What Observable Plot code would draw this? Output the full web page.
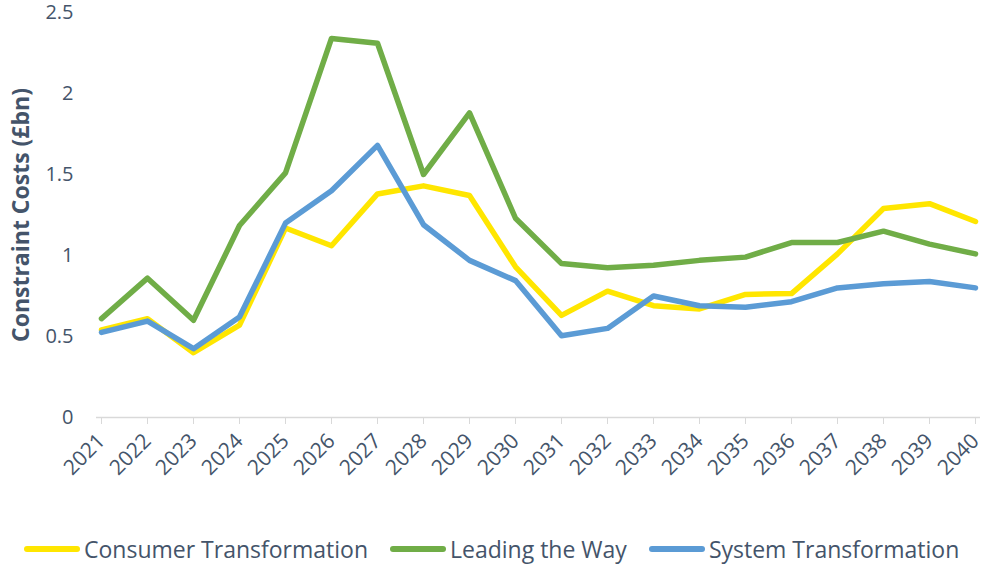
<!DOCTYPE html>
<html><head><meta charset="utf-8">
<script src="https://cdn.jsdelivr.net/npm/d3@7"></script>
<script src="https://cdn.jsdelivr.net/npm/@observablehq/plot@0.6"></script>
<style>
body{margin:0;background:#fff;font-family:"Open Sans",sans-serif;}
#legend{display:flex;align-items:center;height:40px;margin-top:14px;padding-left:24px;color:#44546A;font-size:23px;}
.item{display:flex;align-items:center;margin-right:22px;}
.sw{width:56px;height:6px;border-radius:3px;margin-right:4px;}
</style></head><body><div id="chart"></div><div id="legend"></div>
<script>
const years = [2021,2022,2023,2024,2025,2026,2027,2028,2029,2030,2031,2032,2033,2034,2035,2036,2037,2038,2039,2040];
const seriesNames = ["Consumer Transformation","Leading the Way","System Transformation"];
const colors = ["#FFE600","#70AD47","#5B9BD5"];
const consumer = [0.54,0.61,0.40,0.57,1.17,1.06,1.38,1.43,1.37,0.93,0.63,0.78,0.69,0.67,0.76,0.765,1.01,1.29,1.32,1.21];
const leading  = [0.61,0.86,0.60,1.185,1.51,2.34,2.31,1.50,1.88,1.23,0.95,0.925,0.94,0.97,0.99,1.08,1.08,1.15,1.07,1.01];
const system   = [0.525,0.595,0.425,0.62,1.20,1.40,1.68,1.19,0.97,0.845,0.505,0.55,0.75,0.69,0.68,0.715,0.80,0.825,0.84,0.80];
const yTicks = [0,0.5,1,1.5,2,2.5];
const yTitle = "Constraint Costs (£bn)";

const values = [consumer, leading, system];
const data = [];
seriesNames.forEach((s,i)=>years.forEach((y,j)=>data.push({year:y, value:values[i][j], series:s})));

const textColor = "#44546A";
const chart = Plot.plot({
  width:987, height:515,
  marginLeft:96, marginRight:7, marginTop:12, marginBottom:98,
  style:{fontFamily:"Open Sans, sans-serif", fontSize:"20px", color:textColor, background:"#fff", overflow:"visible"},
  x:{type:"point", domain:years, padding:0},
  y:{domain:[0,2.5]},
  color:{domain:seriesNames, range:colors},
  marks:[
    Plot.ruleY([0],{stroke:"#D9D9D9", strokeWidth:1.5}),
    Plot.axisX({tickRotate:-45, tickSize:7, tickPadding:13, stroke:"#D9D9D9", fill:textColor, fontSize:21, label:null, tickFormat:d=>String(d)}),
    Plot.axisY({ticks:yTicks, tickSize:0, tickPadding:23, fill:textColor, label:null, tickFormat:d=>String(d)}),
    Plot.text([yTitle],{frameAnchor:"left", textAnchor:"middle", dx:-75, rotate:-90, fontWeight:"bold", fontSize:23, fill:textColor}),
    Plot.lineY(data,{x:"year", y:"value", z:"series", stroke:"series", strokeWidth:5.5, strokeLinejoin:"round"})
  ]
});
document.getElementById("chart").appendChild(chart);
const lg = document.getElementById("legend");
seriesNames.forEach((s,i)=>{
  const it = document.createElement("div"); it.className="item";
  const sw = document.createElement("div"); sw.className="sw"; sw.style.background=colors[i];
  const t = document.createElement("span"); t.textContent=s;
  it.appendChild(sw); it.appendChild(t); lg.appendChild(it);
});
</script></body></html>
